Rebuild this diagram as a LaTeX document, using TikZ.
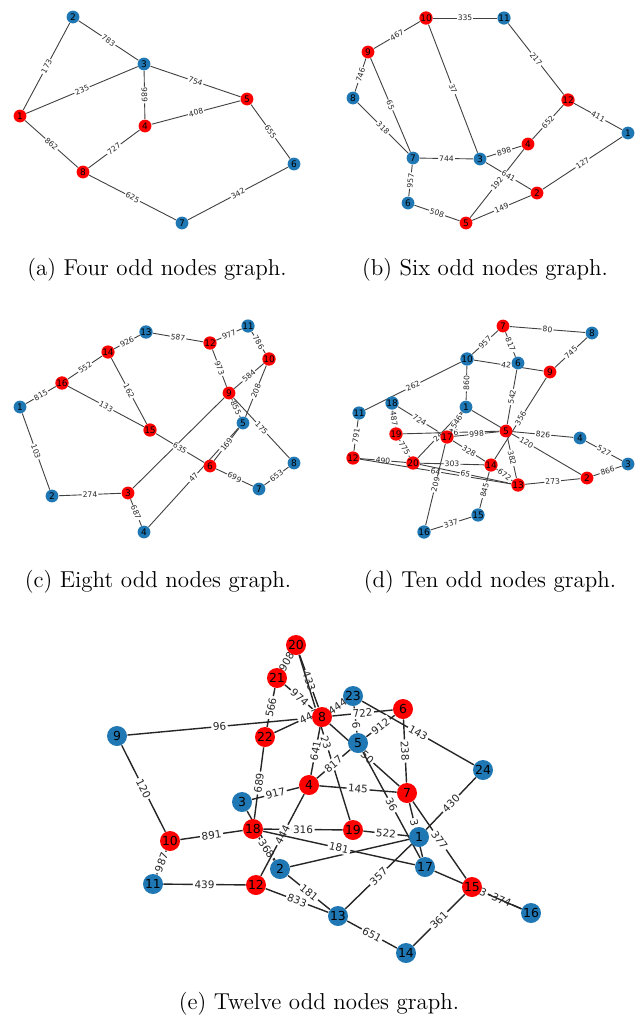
\documentclass[tikz,border=0pt]{standalone}
\usepackage{fontspec}
\newfontfamily\dejavu{DejaVu Sans}
\pgfdeclarelayer{edges}
\pgfsetlayers{edges,main}
\definecolor{oddred}{HTML}{FF0000}
\definecolor{evenblue}{HTML}{1F77B4}
\tikzset{
  odd/.style={circle, fill=oddred, inner sep=0pt, minimum size=6.4pt, text=black,
    font=\dejavu\fontsize{4.5}{5}\selectfont},
  even/.style={odd, fill=evenblue},
  big/.style={minimum size=10pt, font=\dejavu\fontsize{6.2}{7}\selectfont},
  elab/.style={sloped, fill=white, inner sep=0.5pt, text=black!85,
    font=\dejavu\fontsize{3.8}{4}\selectfont},
  belab/.style={elab, inner sep=0.8pt, font=\dejavu\fontsize{5.2}{6}\selectfont},
  edge/.style={draw=black!75, line width=0.45pt},
  bedge/.style={draw=black!85, line width=0.7pt},
  caption/.style={font=\fontsize{11.5}{14}\selectfont},
}
\begin{document}
\begin{tikzpicture}[x=0.5pt, y=-0.5pt]
  \useasboundingbox (0,0) rectangle (638,1024);

  % (a)
  \node[odd]  (a1) at (20,116) {1};
  \node[even] (a2) at (73,17) {2};
  \node[even] (a3) at (144,64) {3};
  \node[odd]  (a4) at (145,126) {4};
  \node[odd]  (a5) at (247,99) {5};
  \node[even] (a6) at (294,164) {6};
  \node[even] (a7) at (182,223) {7};
  \node[odd]  (a8) at (83,172) {8};
  \begin{pgfonlayer}{edges}
  \begin{scope}[edge]
    \draw (a1) to node[elab] {173} (a2);
    \draw (a2) to node[elab] {783} (a3);
    \draw (a1) to node[elab] {235} (a3);
    \draw (a3) to node[elab] {754} (a5);
    \draw (a3) to node[elab] {989} (a4);
    \draw (a4) to node[elab] {408} (a5);
    \draw (a8) to node[elab] {727} (a4);
    \draw (a1) to node[elab] {862} (a8);
    \draw (a5) to node[elab] {655} (a6);
    \draw (a8) to node[elab] {625} (a7);
    \draw (a7) to node[elab] {342} (a6);
  \end{scope}
  \end{pgfonlayer}
  \node[caption] (capa) at (157,270) {(a) Four odd nodes graph.};

  % (b)
  \node[even] (b1) at (628,133) {1};
  \node[odd]  (b2) at (537,193) {2};
  \node[even] (b3) at (480,159) {3};
  \node[odd]  (b4) at (528,144) {4};
  \node[odd]  (b5) at (466,223) {5};
  \node[even] (b6) at (408,203) {6};
  \node[even] (b7) at (413,158) {7};
  \node[even] (b8) at (353,98) {8};
  \node[odd]  (b9) at (368,52) {9};
  \node[odd]  (b10) at (426,18) {10};
  \node[even] (b11) at (504,18) {11};
  \node[odd]  (b12) at (568,100) {12};
  \begin{pgfonlayer}{edges}
  \begin{scope}[edge]
    \draw (b10) to node[elab] {335} (b11);
    \draw (b10) to node[elab] {467} (b9);
    \draw (b10) to node[elab] {37} (b3);
    \draw (b11) to node[elab] {217} (b12);
    \draw (b9) to node[elab] {746} (b8);
    \draw (b9) to node[elab] {65} (b7);
    \draw (b8) to node[elab] {318} (b7);
    \draw (b12) to node[elab] {411} (b1);
    \draw (b12) to node[elab] {652} (b4);
    \draw (b4) to node[elab] {898} (b3);
    \draw (b4) to node[elab] {192} (b5);
    \draw (b7) to node[elab] {744} (b3);
    \draw (b3) to node[elab] {641} (b2);
    \draw (b7) to node[elab] {957} (b6);
    \draw (b6) to node[elab] {508} (b5);
    \draw (b5) to node[elab] {149} (b2);
    \draw (b2) to node[elab] {127} (b1);
  \end{scope}
  \end{pgfonlayer}
  \node[caption] (capb) at (485,270) {(b) Six odd nodes graph.};

  % (c)
  \node[even] (c1) at (20,407) {1};
  \node[even] (c2) at (52,496) {2};
  \node[odd]  (c3) at (128,493) {3};
  \node[even] (c4) at (144,532) {4};
  \node[even] (c5) at (243,423) {5};
  \node[odd]  (c6) at (210,466) {6};
  \node[even] (c7) at (259,489) {7};
  \node[even] (c8) at (294,463) {8};
  \node[odd]  (c9) at (229,393) {9};
  \node[odd]  (c10) at (269,359) {10};
  \node[even] (c11) at (248,326) {11};
  \node[odd]  (c12) at (210,343) {12};
  \node[even] (c13) at (146,332) {13};
  \node[odd]  (c14) at (108,352) {14};
  \node[odd]  (c15) at (150,430) {15};
  \node[odd]  (c16) at (62,383) {16};
  \begin{pgfonlayer}{edges}
  \begin{scope}[edge]
    \draw (c13) to node[elab] {926} (c14);
    \draw (c13) to node[elab] {587} (c12);
    \draw (c12) to node[elab] {977} (c11);
    \draw (c11) to node[elab] {786} (c10);
    \draw (c14) to node[elab] {552} (c16);
    \draw (c14) to node[elab] {162} (c15);
    \draw (c16) to node[elab] {815} (c1);
    \draw (c16) to node[elab] {133} (c15);
    \draw (c12) to node[elab] {973} (c9);
    \draw (c10) to node[elab] {584} (c9);
    \draw (c10) to node[elab] {208} (c5);
    \draw (c9) to node[elab] {855} (c5);
    \draw (c9) to node[elab] {175} (c8);
    \draw (c9) to (c3);
    \draw (c15) to node[elab] {635} (c6);
    \draw (c4) to node[elab] {47} (c5);
    \draw (c6) to node[elab] {169} (c5);
    \draw (c6) to node[elab] {699} (c7);
    \draw (c7) to node[elab] {653} (c8);
    \draw (c1) to node[elab] {103} (c2);
    \draw (c2) to node[elab] {274} (c3);
    \draw (c3) to node[elab] {687} (c4);
  \end{scope}
  \end{pgfonlayer}
  \node[caption] (capc) at (158,582) {(c) Eight odd nodes graph.};

  % (d)
  \node[even] (d1) at (466,407) {1};
  \node[odd]  (d2) at (587,478) {2};
  \node[even] (d3) at (628,464) {3};
  \node[even] (d4) at (580,438) {4};
  \node[odd]  (d5) at (506,431) {5};
  \node[even] (d6) at (518,363) {6};
  \node[odd]  (d7) at (503,326) {7};
  \node[even] (d8) at (592,333) {8};
  \node[odd]  (d9) at (550,372) {9};
  \node[even] (d10) at (467,359) {10};
  \node[even] (d11) at (359,413) {11};
  \node[odd]  (d12) at (353,458) {12};
  \node[odd]  (d13) at (518,485) {13};
  \node[odd]  (d14) at (491,465) {14};
  \node[even] (d15) at (478,515) {15};
  \node[even] (d16) at (424,532) {16};
  \node[odd]  (d17) at (447,437) {17};
  \node[even] (d18) at (392,403) {18};
  \node[odd]  (d19) at (396,434) {19};
  \node[odd]  (d20) at (413,463) {20};
  \begin{pgfonlayer}{edges}
  \begin{scope}[edge]
    \draw (d7) to node[elab] {80} (d8);
    \draw (d7) to node[elab] {957} (d10);
    \draw (d7) to node[elab] {817} (d6);
    \draw (d10) to node[elab, pos=.465] {42} (d9);
    \draw (d8) to node[elab] {745} (d9);
    \draw (d9) to node[elab] {356} (d14);
    \draw (d6) to node[elab] {542} (d5);
    \draw (d10) to node[elab] {860} (d1);
    \draw (d10) to node[elab] {262} (d11);
    \draw (d1) to node[elab] {120} (d2);
    \draw (d18) to node[elab] {724} (d17);
    \draw (d18) to node[elab] {487} (d19);
    \draw (d19) to node[elab] {775} (d20);
    \draw (d20) to node[elab, pos=.46] {24} (d1);
    \draw (d19) to node[elab, pos=.525] {76} (d5);
    \draw (d17) to node[elab] {546} (d1);
    \draw (d17) to node[elab] {998} (d5);
    \draw (d17) to node[elab] {328} (d14);
    \draw (d20) to node[elab] {303} (d14);
    \draw (d12) to node[elab] {490} (d20);
    \draw (d12) to node[elab] {64} (d13);
    \draw (d20) to node[elab] {65} (d13);
    \draw (d14) to node[elab] {845} (d15);
    \draw (d5) to node[elab] {382} (d13);
    \draw (d5) to node[elab] {826} (d4);
    \draw (d4) to node[elab] {527} (d3);
    \draw (d3) to node[elab] {866} (d2);
    \draw (d13) to node[elab] {273} (d2);
    \draw (d14) to node[elab] {672} (d13);
    \draw (d16) to node[elab] {337} (d15);
    \draw (d16) to node[elab] {209} (d17);
    \draw (d11) to node[elab] {791} (d12);
  \end{scope}
  \end{pgfonlayer}
  \node[caption] (capd) at (490,582) {(d) Ten odd nodes graph.};

  % (e)
  \node[even, big] (e1) at (419,837) {1};
  \node[even, big] (e2) at (280,869) {2};
  \node[even, big] (e3) at (242,802) {3};
  \node[odd, big]  (e4) at (309,785) {4};
  \node[even, big] (e5) at (358,743) {5};
  \node[odd, big]  (e6) at (403,709) {6};
  \node[odd, big]  (e7) at (407,793) {7};
  \node[odd, big]  (e8) at (322,717) {8};
  \node[even, big] (e9) at (117,736) {9};
  \node[odd, big]  (e10) at (170,841) {10};
  \node[even, big] (e11) at (153,884) {11};
  \node[odd, big]  (e12) at (256,885) {12};
  \node[even, big] (e13) at (338,916) {13};
  \node[even, big] (e14) at (406,953) {14};
  \node[odd, big]  (e15) at (472,887) {15};
  \node[even, big] (e16) at (531,913) {16};
  \node[even, big] (e17) at (425,867) {17};
  \node[odd, big]  (e18) at (253,829) {18};
  \node[odd, big]  (e19) at (353,830) {19};
  \node[odd, big]  (e20) at (296,645) {20};
  \node[odd, big]  (e21) at (277,678) {21};
  \node[odd, big]  (e22) at (265,737) {22};
  \node[even, big] (e23) at (353,696) {23};
  \node[even, big] (e24) at (483,770) {24};
  \begin{pgfonlayer}{edges}
  \begin{scope}[bedge]
    \draw (e20) to node[belab] {908} (e21);
    \draw (e20) to node[belab] {433} (e8);
    \draw (e20) to node[belab, pos=.53] {23} (e19);
    \draw (e21) to node[belab] {974} (e8);
    \draw (e21) to node[belab] {566} (e22);
    \draw (e9) to node[belab] {96} (e8);
    \draw (e22) to node[belab] {447} (e23);
    \draw (e8) to node[belab] {444} (e23);
    \draw (e23) to node[belab, pos=.74] {6} (e5);
    \draw (e8) to node[belab] {722} (e6);
    \draw (e23) to node[belab] {143} (e24);
    \draw (e5) to node[belab] {912} (e6);
    \draw (e6) to node[belab] {238} (e7);
    \draw (e8) to node[belab, pos=.54] {50} (e7);
    \draw (e5) to node[belab] {36} (e17);
    \draw (e8) to node[belab] {641} (e4);
    \draw (e4) to node[belab] {817} (e5);
    \draw (e4) to node[belab] {145} (e7);
    \draw (e4) to node[belab] {917} (e3);
    \draw (e22) to node[belab] {689} (e18);
    \draw (e3) to (e2);
    \draw (e18) to node[belab] {316} (e19);
    \draw (e10) to node[belab] {891} (e18);
    \draw (e9) to node[belab] {120} (e10);
    \draw (e10) to node[belab] {987} (e11);
    \draw (e11) to node[belab] {439} (e12);
    \draw (e18) to node[belab] {368} (e2);
    \draw (e4) to node[belab] {444} (e12);
    \draw (e2) to (e1);
    \draw (e18) to node[belab] {181} (e17);
    \draw (e2) to node[belab] {181} (e13);
    \draw (e12) to node[belab] {833} (e13);
    \draw (e13) to node[belab] {651} (e14);
    \draw (e13) to node[belab] {357} (e1);
    \draw (e14) to node[belab] {361} (e15);
    \draw (e15) to node[belab] {374} (e16);
    \draw (e17) to node[belab, pos=.56] {3} (e16);
    \draw (e1) to node[belab] {430} (e24);
    \draw (e7) to node[belab, pos=.37] {3} (e17);
    \draw (e7) to node[belab] {377} (e15);
    \draw (e19) to node[belab] {522} (e1);
  \end{scope}
  \end{pgfonlayer}
  \node[caption] (cape) at (319,1004) {(e) Twelve odd nodes graph.};
\end{tikzpicture}
\end{document}
